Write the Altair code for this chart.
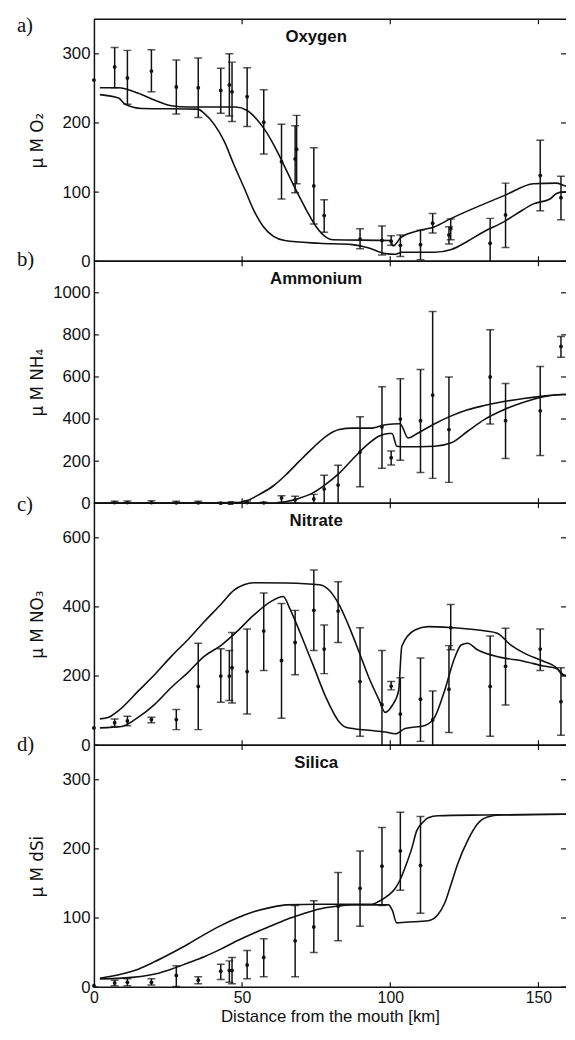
import altair as alt
import pandas as pd

# ---------------- data ----------------
# Oxygen observations: station km, mean, lower, upper
ox_km = [0, 7.0, 11.3, 19.4, 27.8, 35.2, 42.8, 45.7, 46.6, 51.7, 57.3, 63.3, 67.9, 68.4, 74.2, 77.7,
         89.8, 97.2, 100.3, 103.4, 110.2, 114.3, 119.8, 120.4, 133.7, 138.9, 150.6, 157.6]
ox_v = [262, 281, 265, 275, 252, 251, 247, 255, 245, 238, 201, 144, 148, 162, 109, 66,
        32, 30, 29, 23, 24, 55, 38, 47, 26, 67, 124, 92]
ox_lo = [262, 251, 227, 245, 213, 208, 214, 210, 202, 195, 155, 90, 99, 112, 54, 42,
         18, 9, 23, 7, 2, 41, 25, 31, -10, 20, 73, 60]
ox_hi = [262, 309, 305, 306, 291, 294, 279, 300, 288, 280, 248, 198, 196, 211, 164, 89,
         47, 51, 37, 38, 45, 69, 50, 61, 62, 113, 175, 123]
ox_m1_km = [2.0, 8.3, 15.0, 20.6, 26.1, 31.7, 47.8, 51.7, 55.0, 58.3, 61.7, 65.0, 68.3, 71.7, 75.0,
            78.3, 80.6, 100.0, 101.0, 103.5, 109.4, 115.0, 120.6, 131.7, 139.0, 148.3, 156.1, 158.3, 160.0]
ox_m1_v = [251, 251, 243, 233, 225, 223, 223, 218, 205, 186, 160, 131, 102, 74, 50,
           35, 31, 30, 22, 34, 44, 50, 62, 83, 96, 112, 113, 110, 108]
ox_m2_km = [2.0, 8.3, 10.6, 16.1, 35.0, 37.2, 40.6, 43.9, 47.2, 50.6, 53.9, 57.2, 60.6, 64.4, 76.1,
            87.2, 92.8, 98.3, 101.7, 103.9, 115.0, 120.6, 126.1, 131.7, 138.3, 142.8, 148.3, 153.9, 156.1, 158.3, 160.0]
ox_m2_v = [241, 236, 227, 221, 220, 214, 198, 174, 140, 107, 74, 50, 36, 30, 26,
           24, 19, 11, 10, 13, 13, 17, 29, 43, 57, 69, 83, 90, 98, 100, 100]

# Ammonium
nh_km = [7.0, 11.3, 19.4, 27.8, 35.2, 42.8, 45.7, 46.6, 51.7, 57.3, 63.3, 67.9, 74.2, 77.7, 82.4,
         89.8, 97.2, 100.3, 103.4, 110.2, 114.3, 119.8, 133.7, 138.9, 150.6, 157.6]
nh_v = [3, 3, 3, 2, 2, 0, 0, 1, 3, 2, 25, 16, 20, 67, 86,
        243, 362, 216, 400, 392, 514, 350, 600, 392, 439, 745]
nh_lo = [-3, -3, -5, -4, -4, -3, -3, -3, -3, -3, 5, 0, -5, -5, -10,
         78, 166, 182, 204, 146, 118, 99, 376, 213, 227, 694]
nh_hi = [9, 10, 12, 9, 9, 4, 4, 5, 10, 5, 36, 33, 42, 133, 180,
         411, 553, 248, 592, 635, 911, 600, 824, 569, 650, 792]
nh_m1_km = [0, 47.2, 51.7, 56.1, 60.6, 65.0, 69.4, 73.9, 78.3, 82.8, 87.2, 93.9, 98.3, 103.3, 106.0,
            109.4, 115.0, 120.6, 126.1, 131.7, 138.3, 145.0, 151.7, 158.3, 160.0]
nh_m1_v = [0, 2, 13, 44, 83, 138, 201, 263, 318, 350, 357, 357, 373, 378, 310,
           334, 378, 415, 444, 464, 483, 498, 509, 517, 517]
nh_m2_km = [0, 60.6, 65.0, 69.4, 73.9, 78.3, 82.8, 87.2, 91.7, 96.1, 99.4, 100.6, 102.2, 105.0, 115.0,
            120.6, 126.1, 131.7, 138.3, 145.0, 151.7, 158.3, 160.0]
nh_m2_v = [0, 0, 8, 24, 49, 91, 143, 208, 271, 318, 331, 331, 271, 268, 271,
           287, 342, 397, 444, 480, 506, 517, 517]

# Nitrate
no_km = [0, 7.0, 11.3, 19.4, 27.8, 35.2, 42.8, 45.7, 46.6, 51.7, 57.3, 63.3, 67.9, 74.2, 77.7, 82.4,
         89.8, 97.2, 100.3, 103.4, 110.2, 114.3, 119.8, 120.4, 133.7, 138.9, 150.6, 157.6]
no_v = [50, 65, 70, 74, 74, 170, 200, 200, 224, 213, 330, 245, 297, 390, 278, 388,
        184, 117, 171, 90, 133, 73, 162, 340, 170, 228, 278, 126]
no_lo = [50, 54, 56, 65, 45, 45, 124, 129, 122, 90, 216, 78, 204, 274, 207, 297,
         26, -40, 160, -20, 11, -20, 37, 276, 26, 116, 216, 29]
no_hi = [50, 76, 84, 81, 103, 295, 279, 274, 326, 336, 440, 410, 390, 507, 348, 473,
         340, 274, 184, 195, 252, 157, 288, 407, 316, 338, 336, 224]
no_m1_km = [2.0, 5.0, 8.3, 15.0, 20.6, 26.1, 31.7, 37.2, 42.8, 47.2, 50.6, 53.9, 65.0, 76.1, 79.4,
            82.8, 86.1, 89.4, 92.8, 96.1, 98.3, 100.6, 102.8, 103.9, 108.3, 112.8, 120.6, 131.7, 136.1,
            140.6, 145.0, 151.7, 156.1, 158.3, 160.0]
no_m1_v = [76, 81, 100, 157, 205, 257, 305, 357, 407, 448, 464, 470, 469, 464, 448,
           405, 343, 271, 195, 133, 95, 114, 157, 286, 333, 343, 340, 331, 324,
           290, 267, 243, 224, 202, 200]
no_m2_km = [2.0, 9.4, 15.0, 20.6, 26.1, 31.7, 37.2, 42.8, 48.3, 53.9, 59.4, 63.9, 66.1, 69.4, 73.9,
            78.3, 82.8, 85.0, 92.8, 98.3, 101.7, 105.0, 111.7, 115.0, 118.3, 121.7, 123.9, 126.1, 129.4,
            137.2, 145.0, 151.7, 156.1, 158.3, 160.0]
no_m2_v = [50, 54, 81, 119, 167, 210, 257, 288, 329, 376, 414, 430, 395, 329, 233,
           138, 67, 52, 43, 38, 33, 48, 57, 81, 157, 252, 290, 295, 276,
           254, 243, 229, 222, 205, 200]

# Silica
si_km = [0, 7.0, 11.3, 19.4, 27.8, 35.2, 42.8, 45.7, 46.6, 51.7, 57.3, 67.9, 74.2, 82.4,
         89.8, 97.2, 103.4, 110.2]
si_v = [2, 6, 7, 7, 17, 10, 23, 24, 24, 32, 43, 67, 87, 117, 143, 175, 197, 176]
si_lo = [2, 2, 2, 3, 1, 5, 11, 7, 5, 12, 15, 15, 50, 67, 88, 118, 140, 107]
si_hi = [2, 10, 12, 12, 31, 15, 33, 38, 43, 53, 70, 118, 125, 166, 197, 231, 253, 247]
si_m1_km = [2.0, 9.4, 15.0, 20.6, 26.1, 31.7, 37.2, 42.8, 48.3, 53.9, 59.4, 65.0, 76.1, 93.9, 96.1,
            99.4, 101.7, 103.3, 105.6, 107.2, 108.9, 111.1, 112.8, 116.1, 131.7, 158.3, 160.0]
si_m1_v = [13, 19, 26, 37, 49, 62, 76, 89, 100, 109, 115, 119, 120, 120, 124,
           133, 143, 155, 180, 200, 226, 239, 245, 248, 249, 250, 250]
si_m2_km = [2.0, 9.4, 20.6, 26.1, 31.7, 37.2, 42.8, 48.3, 53.9, 59.4, 65.0, 70.6, 76.1, 81.7, 87.2,
            99.4, 100.6, 102.2, 105.0, 112.8, 116.1, 118.3, 120.6, 122.8, 126.1, 129.4, 132.8, 137.2, 158.3, 160.0]
si_m2_v = [12, 13, 19, 26, 35, 44, 55, 67, 78, 88, 98, 106, 113, 117, 119,
           119, 112, 93, 94, 96, 105, 121, 150, 179, 212, 236, 246, 249, 250, 250]

x_ticks = [50, 100, 150]

# ---------------- layout ----------------
W, H = 478, 245
XMAX = 159.3
FONT = "Liberation Sans"
INK = "#111111"


def panel(letter, letter_y, title, ytitle, ymax, yticks,
          st_km, st_v, st_lo, st_hi, m1k, m1v, m2k, m2v, bottom, guard_y):
    pts = pd.DataFrame({"km": st_km, "v": st_v, "lo": st_lo, "hi": st_hi})
    err = pts[pts["lo"] != pts["hi"]]
    mod = pd.DataFrame({"km": m1k + m2k, "v": m1v + m2v,
                        "run": ["A"] * len(m1k) + ["B"] * len(m2k)})
    xscale = alt.Scale(domain=[0, XMAX], nice=False, zero=False)
    yscale = alt.Scale(domain=[0, ymax], nice=False, zero=False)
    if bottom:
        xaxis = alt.Axis(values=[0, 50, 100, 150], format="d", ticks=False, tickSize=0,
                         domain=False, grid=False, labelFlush=False, labelOverlap=False,
                         labelFont=FONT, labelFontSize=16, labelColor=INK, labelPadding=3,
                         title="Distance from the mouth [km]", titleFont=FONT, titleFontSize=17,
                         titleFontWeight="normal", titleColor=INK, titlePadding=3)
    else:
        xaxis = alt.Axis(values=[0, 50, 100, 150], ticks=False, tickSize=0, domain=False,
                         grid=False, labels=False, title="")
    yaxis = alt.Axis(values=yticks, format="d", ticks=False, tickSize=0, domain=True,
                     domainColor=INK, domainWidth=1.5, grid=False, labelFont=FONT,
                     labelFontSize=17, labelColor=INK, labelPadding=4, labelOverlap=False,
                     title=ytitle, titleFont="DejaVu Sans", titleFontSize=17,
                     titleFontWeight="normal", titleColor=INK, titleX=-52, titleY=H / 2,
                     titleBaseline="alphabetic")

    def X(f):
        return alt.X(f, type="quantitative", scale=xscale, axis=xaxis)

    def Y(f):
        return alt.Y(f, type="quantitative", scale=yscale, axis=yaxis)

    lines = alt.Chart(mod).mark_line(color=INK, strokeWidth=1.6, interpolate="monotone",
                                     clip=True).encode(x=X("km"), y=Y("v"), detail="run:N")
    bars = alt.Chart(err).mark_rule(color=INK, strokeWidth=1.5, clip=True).encode(
        x=X("km"), y=Y("lo"), y2="hi:Q")
    cap_lo = alt.Chart(err).mark_tick(color=INK, orient="horizontal", size=8, thickness=1.5,
                                      clip=True).encode(x=X("km"), y=Y("lo"))
    cap_hi = alt.Chart(err).mark_tick(color=INK, orient="horizontal", size=8, thickness=1.5,
                                      clip=True).encode(x=X("km"), y=Y("hi"))
    dots = alt.Chart(pts).mark_circle(color=INK, size=15, opacity=1).encode(x=X("km"), y=Y("v"))

    xt = pd.DataFrame({"km": x_ticks})
    yt = pd.DataFrame({"v": yticks})
    tk_top = alt.Chart(xt).mark_rule(color=INK, strokeWidth=1.2).encode(
        x=X("km"), y=alt.value(0), y2=alt.value(5))
    tk_bot = alt.Chart(xt).mark_rule(color=INK, strokeWidth=1.2).encode(
        x=X("km"), y=alt.value(H - 5), y2=alt.value(H))
    tk_left = alt.Chart(yt).mark_rule(color=INK, strokeWidth=1.2).encode(
        y=Y("v"), x=alt.value(0), x2=alt.value(5))
    tk_right = alt.Chart(yt).mark_rule(color=INK, strokeWidth=1.2).encode(
        y=Y("v"), x=alt.value(W - 5), x2=alt.value(W))

    one = pd.DataFrame({"t": [title], "l": [letter]})
    border_top = alt.Chart(one).mark_rule(color=INK, strokeWidth=1.5).encode(
        x=alt.value(0), x2=alt.value(W), y=alt.value(0))
    border_bot = alt.Chart(one).mark_rule(color=INK, strokeWidth=1.5).encode(
        x=alt.value(0), x2=alt.value(W), y=alt.value(H))
    ttl = alt.Chart(one).mark_text(font=FONT, fontSize=17, fontWeight="bold", color=INK,
                                   align="center", baseline="alphabetic").encode(
        text="t:N", x=alt.value(225), y=alt.value(23))
    lab = alt.Chart(one).mark_text(font="Liberation Serif", fontSize=21, color=INK,
                                   align="left", baseline="alphabetic").encode(
        text="l:N", x=alt.value(-78), y=alt.value(letter_y))
    layers = [lines, bars, cap_lo, cap_hi, dots, tk_top, tk_bot, tk_left, tk_right,
              border_top, border_bot, ttl, lab]
    if guard_y is not None:
        # invisible layout guard that fixes the outer extent of the figure
        layers.append(alt.Chart(one).mark_rule(opacity=0, strokeWidth=1).encode(
            x=alt.value(-85), x2=alt.value(W + 5), y=alt.value(guard_y)))
    return alt.layer(*layers).properties(width=W, height=H)


pa = panel("a)", 13, "Oxygen", "\u03bc M O\u2082", 350, [0, 100, 200, 300],
           ox_km, ox_v, ox_lo, ox_hi, ox_m1_km, ox_m1_v, ox_m2_km, ox_m2_v, False, -15)
pb = panel("b)", 5, "Ammonium", "\u03bc M NH\u2084", 1150, [0, 200, 400, 600, 800, 1000],
           nh_km, nh_v, nh_lo, nh_hi, nh_m1_km, nh_m1_v, nh_m2_km, nh_m2_v, False, None)
pc = panel("c)", 8, "Nitrate", "\u03bc M NO\u2083", 700, [0, 200, 400, 600],
           no_km, no_v, no_lo, no_hi, no_m1_km, no_m1_v, no_m2_km, no_m2_v, False, None)
pd_ = panel("d)", 6, "Silica", "\u03bc M dSi", 350, [0, 100, 200, 300],
            si_km, si_v, si_lo, si_hi, si_m1_km, si_m1_v, si_m2_km, si_m2_v, True, H + 50)

chart = alt.vconcat(pa, pb, pc, pd_, spacing=0, bounds="flush").properties(
    padding={"left": 2, "top": -10, "right": -4, "bottom": -11}
).configure_view(strokeWidth=0)

chart.save("out.html", embed_options={"renderer": "svg", "actions": False})
